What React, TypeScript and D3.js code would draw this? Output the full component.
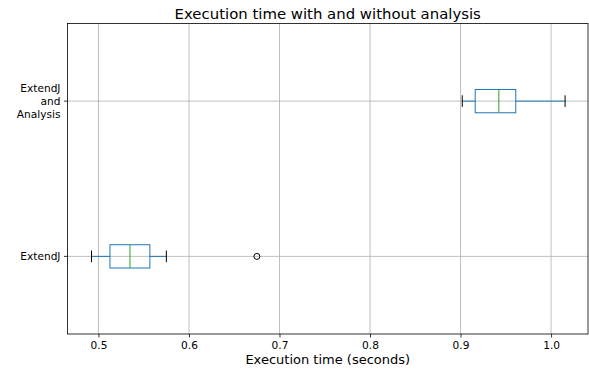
import * as d3 from "d3";
import { useEffect, useRef } from "react";

const categories = ["ExtendJ", "ExtendJ\nand\nAnalysis"];
const whiskerLow = [0.4923, 0.9019];
const q1 = [0.5127, 0.9162];
const median = [0.5348, 0.9423];
const q3 = [0.5568, 0.961];
const whiskerHigh = [0.575, 1.0155];
const outliers = [[0.675], []];
const xTicks = [0.5, 0.6, 0.7, 0.8, 0.9, 1.0];

const W = 589;
const H = 369;
const font = "DejaVu Sans, sans-serif";

export default function App() {
  const ref = useRef<SVGSVGElement>(null);

  useEffect(() => {
    if (!ref.current) return;
    const svg = d3.select(ref.current);
    svg.selectAll("*").remove();

    const margin = { top: 23.5, right: 1, bottom: 35, left: 67.5 };
    const x = d3.scaleLinear().domain([0.4658, 1.0408]).range([margin.left, W - margin.right]);
    const y = d3.scaleLinear().domain([0.5, 2.5]).range([H - margin.bottom, margin.top]);
    const boxH = y(0) - y(0.15);

    svg.append("rect").attr("width", W).attr("height", H).attr("fill", "#fff");

    // grid
    const grid = svg.append("g").attr("stroke", "#b0b0b0").attr("stroke-width", 0.8);
    grid.selectAll(".gx").data(xTicks).join("line")
      .attr("x1", d => x(d)).attr("x2", d => x(d))
      .attr("y1", margin.top).attr("y2", H - margin.bottom);
    grid.selectAll(".gy").data(categories).join("line")
      .attr("x1", margin.left).attr("x2", W - margin.right)
      .attr("y1", (_, i) => y(i + 1)).attr("y2", (_, i) => y(i + 1));

    // boxes
    const g = svg.append("g");
    categories.forEach((_, i) => {
      const cy = y(i + 1);
      g.append("line").attr("x1", x(whiskerLow[i])).attr("x2", x(q1[i])).attr("y1", cy).attr("y2", cy)
        .attr("stroke", "#1f77b4").attr("stroke-width", 1);
      g.append("line").attr("x1", x(q3[i])).attr("x2", x(whiskerHigh[i])).attr("y1", cy).attr("y2", cy)
        .attr("stroke", "#1f77b4").attr("stroke-width", 1);
      [whiskerLow[i], whiskerHigh[i]].forEach(v => {
        g.append("line").attr("x1", x(v)).attr("x2", x(v))
          .attr("y1", cy - boxH / 4).attr("y2", cy + boxH / 4)
          .attr("stroke", "#000").attr("stroke-width", 1);
      });
      g.append("rect").attr("x", x(q1[i])).attr("y", cy - boxH / 2)
        .attr("width", x(q3[i]) - x(q1[i])).attr("height", boxH)
        .attr("fill", "none").attr("stroke", "#1f77b4").attr("stroke-width", 1);
      g.append("line").attr("x1", x(median[i])).attr("x2", x(median[i]))
        .attr("y1", cy - boxH / 2).attr("y2", cy + boxH / 2)
        .attr("stroke", "#2ca02c").attr("stroke-width", 1);
      outliers[i].forEach(v => {
        g.append("circle").attr("cx", x(v)).attr("cy", cy).attr("r", 3)
          .attr("fill", "none").attr("stroke", "#000").attr("stroke-width", 1);
      });
    });

    // frame
    svg.append("rect").attr("x", margin.left).attr("y", margin.top)
      .attr("width", W - margin.right - margin.left).attr("height", H - margin.bottom - margin.top)
      .attr("fill", "none").attr("stroke", "#000").attr("stroke-width", 0.8);

    // x axis
    const xa = svg.append("g").attr("transform", `translate(0,${H - margin.bottom})`)
      .call(d3.axisBottom(x).tickValues(xTicks).tickSize(3.5).tickPadding(3.5).tickFormat(d3.format(".1f")));
    xa.select(".domain").remove();
    xa.selectAll("line").attr("stroke", "#000").attr("stroke-width", 0.8);
    xa.selectAll("text").attr("fill", "#000").attr("font-size", 10.6).attr("font-family", font);

    // y axis
    const ya = svg.append("g").attr("transform", `translate(${margin.left},0)`);
    categories.forEach((c, i) => {
      const cy = y(i + 1);
      ya.append("line").attr("x1", -3.5).attr("x2", 0).attr("y1", cy).attr("y2", cy)
        .attr("stroke", "#000").attr("stroke-width", 0.8);
      const lines = c.split("\n");
      const t = ya.append("text").attr("text-anchor", "end").attr("font-size", 10.6)
        .attr("font-family", font).attr("fill", "#000");
      lines.forEach((l, j) => {
        t.append("tspan").attr("x", -7).attr("y", cy + (j - (lines.length - 1) / 2) * 12.6 + 3.8).text(l);
      });
    });

    svg.append("text").attr("x", (margin.left + W - margin.right) / 2).attr("y", 18.5)
      .attr("text-anchor", "middle").attr("font-size", 14.9).attr("font-family", font)
      .attr("fill", "#000").text("Execution time with and without analysis");
    svg.append("text").attr("x", (margin.left + W - margin.right) / 2).attr("y", 364)
      .attr("text-anchor", "middle").attr("font-size", 13).attr("font-family", font)
      .attr("fill", "#000").text("Execution time (seconds)");
  }, []);

  return (
    <svg ref={ref} width={W} height={H}
      style={{ position: "absolute", left: 0, top: 0, display: "block" }} />
  );
}
